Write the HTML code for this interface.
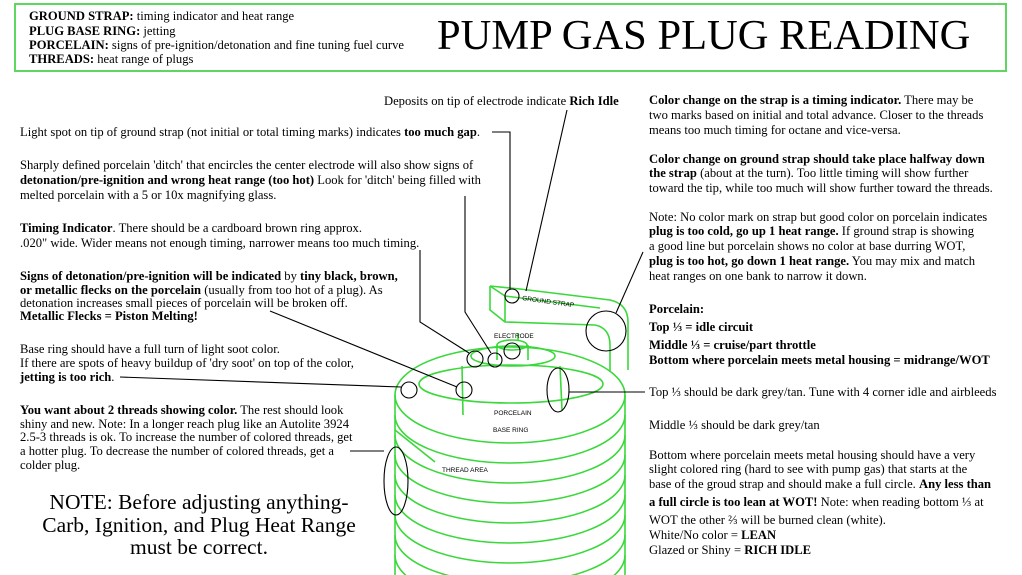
<!DOCTYPE html>
<html><head><meta charset="utf-8"><style>
body{margin:0;width:1022px;height:575px;background:#fff;position:relative;overflow:hidden;font-family:"Liberation Serif",serif;color:#000}
.t{position:absolute;font-size:12.6px;white-space:nowrap;line-height:14px}
.box{position:absolute;left:14px;top:3px;width:989px;height:65px;border:2px solid #5fd65f}
.title{position:absolute;left:437px;top:12px;font-size:42.5px;line-height:48px;white-space:nowrap}
.note{position:absolute;left:19px;top:491px;width:360px;text-align:center;font-size:21.5px;line-height:22.5px}
svg{position:absolute;left:0;top:0}
</style></head><body>
<div class="box"></div>
<div class="t" style="left:29px;top:9px"><b>GROUND STRAP:</b> timing indicator and heat range</div>
<div class="t" style="left:29px;top:24px"><b>PLUG BASE RING:</b> jetting</div>
<div class="t" style="left:29px;top:38px"><b>PORCELAIN:</b> signs of pre-ignition/detonation and fine tuning fuel curve</div>
<div class="t" style="left:29px;top:52px"><b>THREADS:</b> heat range of plugs</div>
<div class="title">PUMP GAS PLUG READING</div>

<div class="t" style="left:384px;top:94px">Deposits on tip of electrode indicate <b>Rich Idle</b></div>
<div class="t" style="left:20px;top:125px">Light spot on tip of ground strap (not initial or total timing marks) indicates <b>too much gap</b>.</div>
<div class="t" style="left:20px;top:158px">Sharply defined porcelain 'ditch' that encircles the center electrode will also show signs of</div>
<div class="t" style="left:20px;top:173px"><b>detonation/pre-ignition and wrong heat range (too hot)</b> Look for 'ditch' being filled with</div>
<div class="t" style="left:20px;top:188px">melted porcelain with a 5 or 10x magnifying glass.</div>
<div class="t" style="left:20px;top:221px"><b>Timing Indicator</b>. There should be a cardboard brown ring approx.</div>
<div class="t" style="left:20px;top:236px">.020" wide. Wider means not enough timing, narrower means too much timing.</div>
<div class="t" style="left:20px;top:269px"><b>Signs of detonation/pre-ignition will be indicated</b> by <b>tiny black, brown,</b></div>
<div class="t" style="left:20px;top:283px"><b>or metallic flecks on the porcelain</b> (usually from too hot of a plug). As</div>
<div class="t" style="left:20px;top:296px">detonation increases small pieces of porcelain will be broken off.</div>
<div class="t" style="left:20px;top:309px"><b>Metallic Flecks = Piston Melting!</b></div>
<div class="t" style="left:20px;top:342px">Base ring should have a full turn of light soot color.</div>
<div class="t" style="left:20px;top:356px">If there are spots of heavy buildup of 'dry soot' on top of the color,</div>
<div class="t" style="left:20px;top:370px"><b>jetting is too rich</b>.</div>
<div class="t" style="left:20px;top:403px"><b>You want about 2 threads showing color.</b> The rest should look</div>
<div class="t" style="left:20px;top:417px">shiny and new. Note: In a longer reach plug like an Autolite 3924</div>
<div class="t" style="left:20px;top:430px">2.5-3 threads is ok. To increase the number of colored threads, get</div>
<div class="t" style="left:20px;top:444px">a hotter plug. To decrease the number of colored threads, get a</div>
<div class="t" style="left:20px;top:458px">colder plug.</div>
<div class="note">NOTE: Before adjusting anything-<br>Carb, Ignition, and Plug Heat Range<br>must be correct.</div>

<div class="t" style="left:649px;top:93px"><b>Color change on the strap is a timing indicator.</b> There may be</div>
<div class="t" style="left:649px;top:108px">two marks based on initial and total advance. Closer to the threads</div>
<div class="t" style="left:649px;top:123px">means too much timing for octane and vice-versa.</div>
<div class="t" style="left:649px;top:152px"><b>Color change on ground strap should take place halfway down</b></div>
<div class="t" style="left:649px;top:166px"><b>the strap</b> (about at the turn). Too little timing will show further</div>
<div class="t" style="left:649px;top:181px">toward the tip, while too much will show further toward the threads.</div>
<div class="t" style="left:649px;top:210px">Note: No color mark on strap but good color on porcelain indicates</div>
<div class="t" style="left:649px;top:224px"><b>plug is too cold, go up 1 heat range.</b> If ground strap is showing</div>
<div class="t" style="left:649px;top:239px">a good line but porcelain shows no color at base durring WOT,</div>
<div class="t" style="left:649px;top:254px"><b>plug is too hot, go down 1 heat range.</b> You may mix and match</div>
<div class="t" style="left:649px;top:269px">heat ranges on one bank to narrow it down.</div>
<div class="t" style="left:649px;top:302px"><b>Porcelain:</b></div>
<div class="t" style="left:649px;top:320px"><b>Top ⅓ = idle circuit</b></div>
<div class="t" style="left:649px;top:338px"><b>Middle ⅓ = cruise/part throttle</b></div>
<div class="t" style="left:649px;top:353px"><b>Bottom where porcelain meets metal housing = midrange/WOT</b></div>
<div class="t" style="left:649px;top:385px">Top ⅓ should be dark grey/tan. Tune with 4 corner idle and airbleeds</div>
<div class="t" style="left:649px;top:418px">Middle ⅓ should be dark grey/tan</div>
<div class="t" style="left:649px;top:448px">Bottom where porcelain meets metal housing should have a very</div>
<div class="t" style="left:649px;top:462px">slight colored ring (hard to see with pump gas) that starts at the</div>
<div class="t" style="left:649px;top:477px">base of the groud strap and should make a full circle. <b>Any less than</b></div>
<div class="t" style="left:649px;top:495px"><b>a full circle is too lean at WOT!</b> Note: when reading bottom ⅓ at</div>
<div class="t" style="left:649px;top:513px">WOT the other ⅔ will be burned clean (white).</div>
<div class="t" style="left:649px;top:528px">White/No color = <b>LEAN</b></div>
<div class="t" style="left:649px;top:543px">Glazed or Shiny = <b>RICH IDLE</b></div>

<svg width="1022" height="575" viewBox="0 0 1022 575">
<g fill="none" stroke="#3ad83a" stroke-width="1.6">
 <path d="M395 575 V395 M625 575 V395"/>
 <path d="M395 395 A115 48 0 0 0 625 395"/>
 <path d="M395 415 A115 48 0 0 0 625 415"/>
 <path d="M395 435 A115 48 0 0 0 625 435"/>
 <path d="M395 455 A115 48 0 0 0 625 455"/>
 <path d="M395 475 A115 48 0 0 0 625 475"/>
 <path d="M395 495 A115 48 0 0 0 625 495"/>
 <path d="M395 515 A115 48 0 0 0 625 515"/>
 <path d="M395 535 A115 48 0 0 0 625 535"/>
 <path d="M395 555 A115 48 0 0 0 625 555"/>
 <path d="M395 395 A115 48 0 0 1 625 395"/>
 <path d="M395 430 Q420 450 435 462"/>
 <ellipse cx="511" cy="384" rx="92" ry="19"/>
 <path d="M462 366 L463 415 M560 366 L562 410"/>
 <ellipse cx="513" cy="356" rx="42" ry="10"/>
 <path d="M497 345 V360 M528 345 V360"/>
 <ellipse cx="512" cy="345" rx="15" ry="5"/>
 <path d="M490 286 L520 289 L610 300 Q628 304 628 322 V370"/>
 <path d="M490 286 V310 L505 322 L595 325 Q610 328 610 345 V372"/>
 <path d="M505 296 V322 M490 286 L505 296 L600 308"/>
 <path d="M518 333 V340"/>
</g>
<g font-family="Liberation Sans,sans-serif" font-size="6.5" fill="#000">
 <text x="522" y="300" transform="rotate(8 522 300)">GROUND STRAP</text>
 <text x="494" y="338">ELECTRODE</text>
 <text x="494" y="415">PORCELAIN</text>
 <text x="493" y="432">BASE RING</text>
 <text x="442" y="472">THREAD AREA</text>
</g>
<g fill="none" stroke="#000" stroke-width="1.1">
 <circle cx="512" cy="296" r="7"/>
 <circle cx="475" cy="359" r="8"/>
 <circle cx="495" cy="360" r="7"/>
 <circle cx="512" cy="351" r="8"/>
 <circle cx="409" cy="390" r="8"/>
 <circle cx="464" cy="390" r="8"/>
 <circle cx="606" cy="331" r="20"/>
 <ellipse cx="558" cy="390" rx="11" ry="22"/>
 <ellipse cx="396" cy="481" rx="12" ry="34"/>
 <path d="M492 132 H510 V289"/>
 <path d="M567 110 L526 291"/>
 <path d="M643 252 L616 313"/>
 <path d="M465 196 V312 L491 353"/>
 <path d="M420 250 V322 L469 353"/>
 <path d="M270 311 L457 387"/>
 <path d="M120 377 L401 387"/>
 <path d="M350 451 H384"/>
 <path d="M569 392 H645"/>
</g>
</svg>
</body></html>
